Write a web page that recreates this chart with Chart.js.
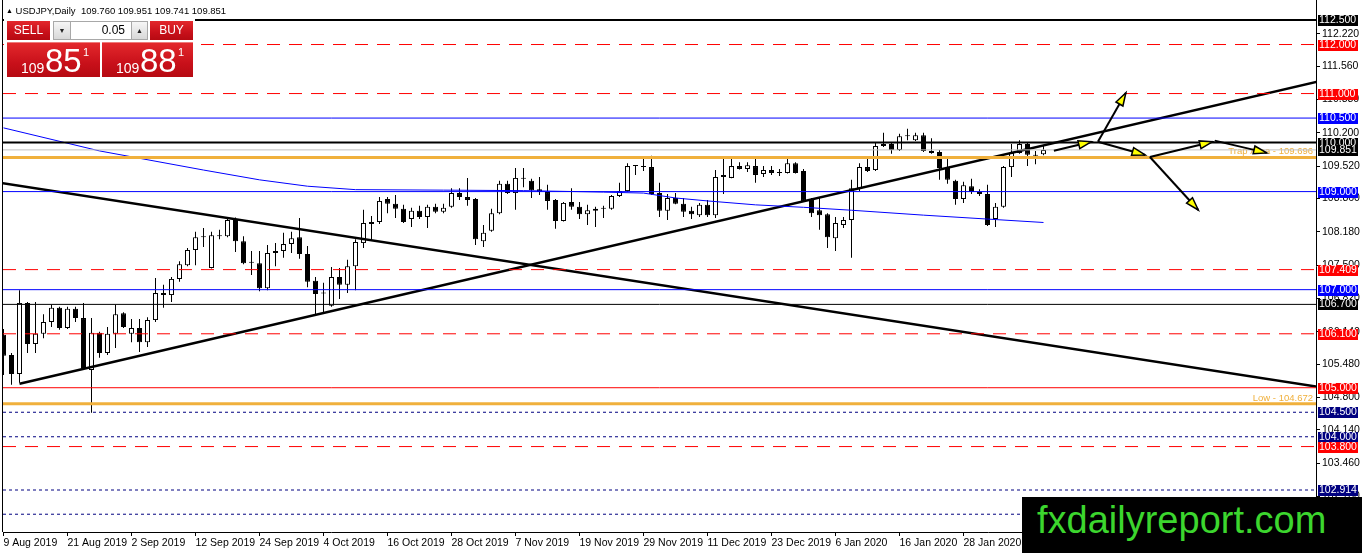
<!DOCTYPE html>
<html>
<head>
<meta charset="utf-8">
<title>USDJPY, Daily</title>
<script src="https://cdn.jsdelivr.net/npm/chart.js@4.4.1/dist/chart.umd.min.js"></script>
<style>
  html, body { margin: 0; padding: 0; background: #fff; overflow: hidden; }
  #wrap { position: relative; width: 1362px; height: 553px; font-family: "Liberation Sans", Arial, sans-serif; }
  #wrap canvas { position: absolute; left: 0; top: 0; }
  #hdr { position: absolute; left: 6px; top: 5px; font-size: 9.5px; line-height: 12px; white-space: pre; color: #000; }
  #hdr .tri { font-size: 7px; vertical-align: 1px; }
  #panel { position: absolute; left: 4px; top: 18px; width: 191px; height: 61px; background: #fff; }
  #panel div { position: absolute; box-sizing: border-box; }
  .red { background: linear-gradient(#e3282c, #c8101a 60%, #b60a12); color: #fff; }
  .btn { top: 3px; height: 19px; font-size: 12px; line-height: 19px; text-align: center; }
  .spin { top: 3px; height: 19px; background: linear-gradient(#f6f6f6, #d8d8d8); border: 1px solid #a8a8a8; font-size: 7px; line-height: 17px; text-align: center; color: #222; }
  #lot { top: 3px; left: 67px; width: 60px; height: 19px; border-top: 1px solid #a8a8a8; border-bottom: 1px solid #a8a8a8; background: #fff; font-size: 12px; line-height: 17px; text-align: right; padding-right: 6px; }
  .px { top: 24px; height: 35px; border-top: 1px solid #ee7a7a; }
  .px span { position: absolute; color: #fff; white-space: nowrap; }
  .px .s { font-size: 14px; line-height: 14px; top: 18px; left: 14px; }
  .px .b { font-size: 33px; line-height: 33px; top: 1px; left: 38px; }
  .px .u { font-size: 11px; line-height: 11px; top: 4px; left: 76px; }
  #logo { position: absolute; left: 1022px; top: 497px; width: 340px; height: 56px; background: #000; color: #3cd62e; font-size: 38px; line-height: 38px; padding: 4px 0 0 15px; box-sizing: border-box; white-space: nowrap; }
</style>
</head>
<body>
<div id="wrap">
  <canvas id="usdJpyCanvas" width="1362" height="553"></canvas>
  <div id="hdr"><span class="tri">▲</span> USDJPY,Daily  <span id="hdrVals"></span></div>
  <div id="panel">
    <div class="btn red" style="left:3px;width:43px">SELL</div>
    <div class="spin" style="left:49px;width:18px">▼</div>
    <div id="lot">0.05</div>
    <div class="spin" style="left:127px;width:17px">▲</div>
    <div class="btn red" style="left:146px;width:43px">BUY</div>
    <div class="px red" style="left:3px;width:93px"><span class="s">109</span><span class="b">85</span><span class="u">1</span></div>
    <div class="px red" style="left:98px;width:91px"><span class="s">109</span><span class="b">88</span><span class="u">1</span></div>
  </div>
  <div id="logo">fxdailyreport.com</div>
</div>
<script>
//---------------------- DATA

// bar index 0 = 9 Aug 2019, one bar per trading day
const dateTickIdx = [0, 8, 16, 24, 32, 40, 48, 56, 64, 72, 80, 88, 96, 104, 112, 120];
const dateTickLabels = ['9 Aug 2019', '21 Aug 2019', '2 Sep 2019', '12 Sep 2019', '24 Sep 2019', '4 Oct 2019',
    '16 Oct 2019', '28 Oct 2019', '7 Nov 2019', '19 Nov 2019', '29 Nov 2019', '11 Dec 2019',
    '23 Dec 2019', '6 Jan 2020', '16 Jan 2020', '28 Jan 2020'];
const priceTicks = [112.22, 111.56, 110.88, 110.20, 109.52, 108.86, 108.18, 107.50,
    106.82, 106.14, 105.48, 104.80, 104.14, 103.46, 102.78, 102.10];

const opens = [
    106.08, 105.67, 105.28, 106.73, 105.89, 106.10, 106.34, 106.63, 106.22, 106.61,
    106.42, 105.36, 106.12, 105.71, 106.10, 106.52, 106.10, 106.22, 105.93, 106.38,
    106.93, 106.89, 107.22, 107.50, 107.81, 108.07, 107.44, 108.09, 108.09, 108.44,
    107.99, 107.56, 107.54, 107.03, 107.75, 107.79, 107.93, 108.07, 107.73, 107.18,
    106.92, 106.67, 107.26, 107.10, 107.48, 107.95, 108.34, 108.38, 108.85, 108.75,
    108.65, 108.44, 108.61, 108.48, 108.69, 108.59, 108.69, 108.97, 108.89, 108.85,
    107.99, 108.20, 108.56, 109.16, 108.97, 109.28, 109.22, 109.05, 108.99, 108.83,
    108.40, 108.79, 108.69, 108.54, 108.61, 108.65, 108.65, 108.91, 109.01, 109.52,
    109.51, 109.50, 108.97, 108.61, 108.87, 108.75, 108.61, 108.52, 108.73, 108.52,
    109.30, 109.28, 109.52, 109.46, 109.52, 109.36, 109.44, 109.38, 109.38, 109.58,
    109.42, 108.85, 108.62, 108.54, 108.05, 108.32, 108.42, 109.07, 109.50, 109.44,
    109.93, 109.97, 109.85, 110.13, 110.05, 110.15, 109.83, 109.81, 109.48, 109.22,
    108.85, 109.11, 108.99, 108.95, 108.44, 108.69, 109.50, 109.79, 109.97, 109.75,
    109.760];
const highs = [
    106.20, 105.71, 106.99, 106.75, 106.75, 106.50, 106.69, 106.65, 106.65, 106.65,
    106.73, 106.42, 106.14, 106.24, 106.69, 106.54, 106.40, 106.40, 106.44, 107.24,
    107.10, 107.26, 107.58, 107.85, 108.18, 108.26, 108.18, 108.22, 108.46, 108.47,
    108.09, 107.79, 107.79, 107.91, 107.95, 108.16, 108.18, 108.46, 107.89, 107.26,
    107.14, 107.46, 107.44, 107.61, 108.03, 108.63, 108.50, 108.89, 108.89, 108.93,
    108.73, 108.67, 108.71, 108.73, 108.75, 108.75, 109.07, 109.07, 109.28, 108.87,
    108.32, 108.65, 109.22, 109.22, 109.48, 109.48, 109.26, 109.30, 109.14, 108.85,
    108.79, 109.07, 108.79, 108.73, 108.69, 108.71, 108.93, 109.18, 109.58, 109.54,
    109.67, 109.73, 109.18, 108.95, 108.97, 108.87, 108.69, 108.77, 108.83, 109.44,
    109.67, 109.67, 109.60, 109.60, 109.67, 109.52, 109.52, 109.46, 109.67, 109.60,
    109.46, 108.87, 108.87, 108.56, 108.48, 108.48, 109.24, 109.58, 109.69, 109.99,
    110.20, 109.99, 110.18, 110.28, 110.20, 110.20, 110.09, 109.85, 109.67, 109.24,
    109.20, 109.26, 109.05, 109.14, 108.77, 109.52, 109.97, 110.05, 110.01, 109.83,
    109.951];
const lows = [
    105.26, 105.06, 105.10, 105.71, 105.71, 106.01, 106.24, 106.18, 106.20, 106.34,
    105.38, 104.49, 105.61, 105.67, 105.81, 106.22, 105.93, 105.73, 105.83, 106.34,
    106.63, 106.75, 107.16, 107.48, 107.50, 107.87, 107.43, 108.03, 108.07, 107.77,
    107.52, 107.30, 106.97, 106.99, 107.48, 107.65, 107.75, 107.63, 107.05, 106.50,
    106.52, 106.65, 106.81, 106.93, 106.99, 107.85, 108.01, 108.34, 108.56, 108.46,
    108.36, 108.28, 108.44, 108.26, 108.56, 108.56, 108.67, 108.83, 108.71, 107.91,
    107.87, 108.18, 108.54, 108.95, 108.63, 109.09, 108.87, 108.93, 108.63, 108.24,
    108.39, 108.63, 108.44, 108.32, 108.28, 108.46, 108.63, 108.89, 108.99, 109.34,
    109.42, 108.93, 108.48, 108.42, 108.74, 108.48, 108.44, 108.48, 108.48, 108.46,
    108.95, 109.27, 109.45, 109.40, 109.18, 109.30, 109.34, 109.32, 109.37, 109.37,
    108.79, 108.48, 108.22, 107.85, 107.79, 108.26, 107.65, 109.01, 109.40, 109.42,
    109.91, 109.77, 109.83, 110.05, 110.03, 109.81, 109.77, 109.24, 109.16, 108.73,
    108.77, 108.95, 108.91, 108.30, 108.28, 108.67, 109.30, 109.77, 109.52, 109.56,
    109.741];
const closes = [
    105.65, 105.28, 106.73, 105.89, 106.10, 106.34, 106.63, 106.22, 106.61, 106.42,
    105.40, 106.12, 105.71, 106.10, 106.50, 106.24, 106.22, 105.93, 106.38, 106.93,
    106.89, 107.22, 107.52, 107.81, 108.07, 108.09, 108.11, 108.11, 108.42, 107.99,
    107.54, 107.55, 107.03, 107.75, 107.79, 107.93, 108.05, 107.73, 107.16, 106.91,
    106.94, 107.26, 107.10, 107.48, 107.97, 108.36, 108.38, 108.81, 108.75, 108.65,
    108.38, 108.61, 108.48, 108.69, 108.59, 108.67, 108.97, 108.89, 108.83, 108.03,
    108.16, 108.56, 109.16, 108.97, 109.28, 109.26, 109.03, 108.99, 108.81, 108.40,
    108.77, 108.69, 108.54, 108.62, 108.65, 108.66, 108.91, 109.01, 109.52, 109.53,
    109.50, 108.95, 108.61, 108.87, 108.75, 108.59, 108.54, 108.73, 108.52, 109.30,
    109.34, 109.52, 109.46, 109.54, 109.34, 109.44, 109.38, 109.39, 109.58, 109.38,
    108.81, 108.56, 108.52, 108.07, 108.36, 108.42, 109.07, 109.50, 109.42, 109.93,
    109.97, 109.85, 110.13, 110.14, 110.15, 109.83, 109.79, 109.48, 109.24, 108.85,
    109.13, 108.99, 108.95, 108.32, 108.69, 109.50, 109.79, 109.97, 109.75, 109.73,
    109.851];

// moving average, read at a few bars
const maIdx = [0, 12, 25, 32, 38, 44, 55, 65, 75, 80, 84, 88, 94, 100, 106, 115, 123, 130];
const maVals = [110.30, 109.83, 109.44, 109.24, 109.11, 109.04, 109.03, 109.02, 108.99,
    108.97, 108.87, 108.81, 108.73, 108.68, 108.62, 108.52, 108.44, 108.37];

// trend lines [bar, price]
const trendRise = [[2, 105.08], [165, 111.27]];
const trendFall = [[-1, 109.195], [165, 105.00]];

// projected path arrows [bar, price]
const arrowFrom = [[131.3, 109.834], [136.8, 110.018], [136.8, 110.018], [143.3, 109.706], [143.3, 109.706], [151.4, 110.040]];
const arrowTo = [[136.0, 110.018], [140.3, 111.017], [142.7, 109.747], [149.35, 108.625], [151.15, 110.018], [157.9, 109.790]];

// horizontal levels
const levelPrices = [112.500, 112.000, 111.000, 110.500, 110.000, 109.851, 109.696, 109.000, 107.409,
    107.000, 106.700, 106.100, 105.000, 104.672, 104.500, 104.000, 103.800, 102.914, 102.420];
const levelKinds = ['thick', 'dash', 'dash', 'blue', 'thick', 'bid', 'gold', 'blue', 'dash',
    'blue', 'thin', 'dash', 'red', 'gold', 'dot', 'dot', 'dash', 'dot', 'dot'];
const noteTexts = ['Trap Area - 109.696', 'Low - 104.672'];
const notePrices = [109.696, 104.672];

//---------------------- STYLE

const X_MIN = -0.0625;
const X_MAX = 164.0625;
const Y_MIN = 102.0575;
const Y_MAX = 112.908;
const FONT = '"Liberation Sans", Arial, sans-serif';
const GOLD = '#f0b03c';

const LEVEL_STYLE = {
    thick: {color: '#000000', width: 2, dash: [], tag: '#000000'},
    thin:  {color: '#000000', width: 1, dash: [], tag: '#000000'},
    dash:  {color: '#ff0000', width: 1, dash: [13, 9], tag: '#ff0000'},
    red:   {color: '#ff0000', width: 1, dash: [], tag: '#ff0000'},
    blue:  {color: '#0000ff', width: 1, dash: [], tag: '#0000ff'},
    dot:   {color: '#000080', width: 1, dash: [3, 3], tag: '#000080'},
    gold:  {color: GOLD, width: 3, dash: [], tag: null},
    bid:   {color: '#c0c0c0', width: 1, dash: [], tag: '#000000'}
};

//---------------------- PLUGINS

const chartDecor = {
    id: 'chartDecor',
    beforeDatasetsDraw(chart) {
        const {ctx, chartArea, scales: {y}} = chart;
        ctx.save();
        ctx.font = `9.5px ${FONT}`;
        ctx.fillStyle = GOLD;
        ctx.textAlign = 'right';
        ctx.textBaseline = 'alphabetic';
        noteTexts.forEach((t, k) => {
            ctx.fillText(t, chartArea.right - 3, y.getPixelForValue(notePrices[k]) - 3);
        });
        ctx.restore();
    },
    afterDatasetsDraw(chart) {
        const {ctx, scales: {x, y}} = chart;
        ctx.save();
        arrowTo.forEach((to, k) => {
            const from = arrowFrom[k];
            const x1 = x.getPixelForValue(from[0]), y1 = y.getPixelForValue(from[1]);
            const x2 = x.getPixelForValue(to[0]), y2 = y.getPixelForValue(to[1]);
            const a = Math.atan2(y2 - y1, x2 - x1);
            const len = 13, half = 4;
            const bx = x2 - len * Math.cos(a), by = y2 - len * Math.sin(a);
            ctx.beginPath();
            ctx.moveTo(x2, y2);
            ctx.lineTo(bx + half * Math.sin(a), by - half * Math.cos(a));
            ctx.lineTo(bx - half * Math.sin(a), by + half * Math.cos(a));
            ctx.closePath();
            ctx.fillStyle = '#ffff00';
            ctx.fill();
            ctx.lineWidth = 1.5;
            ctx.strokeStyle = '#000000';
            ctx.stroke();
        });
        ctx.restore();
    },
    afterDraw(chart) {
        const {ctx, chartArea, scales: {y}} = chart;
        ctx.save();
        // left frame
        ctx.strokeStyle = '#000000';
        ctx.lineWidth = 1;
        ctx.beginPath();
        ctx.moveTo(chartArea.left - 0.5, 0);
        ctx.lineTo(chartArea.left - 0.5, chartArea.bottom);
        ctx.stroke();
        // price tags on the right axis
        ctx.font = `10.5px ${FONT}`;
        ctx.textBaseline = 'middle';
        ctx.textAlign = 'left';
        levelPrices.forEach((p, k) => {
            const st = LEVEL_STYLE[levelKinds[k]];
            if (!st.tag) return;
            const py = Math.round(y.getPixelForValue(p));
            ctx.fillStyle = st.tag;
            ctx.fillRect(chartArea.right + 2, py - 5, 40, 11);
            ctx.fillStyle = '#ffffff';
            ctx.fillText(p.toFixed(3), chartArea.right + 3, py + 0.5);
        });
        ctx.restore();
    }
};

//---------------------- CALLS

document.getElementById('hdrVals').textContent =
    [opens, highs, lows, closes].map(a => a[a.length - 1].toFixed(3)).join(' ');

Chart.defaults.font.family = FONT;
Chart.defaults.font.size = 10.5;
Chart.defaults.color = '#000000';

let myChart = plotUsdJpy();

//---------------------- FUNCTIONS

function lineSet(points, color, width, dash, order) {
    return {
        type: 'line',
        data: points.map(p => ({x: p[0], y: p[1]})),
        borderColor: color,
        borderWidth: width,
        borderDash: dash,
        pointRadius: 0,
        fill: false,
        tension: 0,
        order: order
    };
}

function plotUsdJpy() {
    const wicks = [];
    const bodies = [];
    const bodyColors = [];
    for (let i = 0; i < opens.length; i++) {
        wicks.push({x: i, y: [lows[i], highs[i]]});
        bodies.push({x: i, y: [opens[i], closes[i]]});
        bodyColors.push(closes[i] >= opens[i] ? '#ffffff' : '#000000');
    }

    const datasets = [];
    levelPrices.forEach((p, k) => {
        const st = LEVEL_STYLE[levelKinds[k]];
        datasets.push(lineSet([[X_MIN, p], [X_MAX, p]], st.color, st.width, st.dash, 1));
    });
    datasets.push(lineSet(maIdx.map((v, k) => [v, maVals[k]]), '#0000ff', 1, [], 1));
    datasets.push(lineSet(trendRise, '#000000', 2.5, [], 1));
    datasets.push(lineSet(trendFall, '#000000', 2.5, [], 1));
    arrowFrom.forEach((f, k) => datasets.push(lineSet([f, arrowTo[k]], '#000000', 2, [], 0)));

    datasets.push({
        type: 'bar',
        data: wicks,
        backgroundColor: '#000000',
        borderWidth: 0,
        barThickness: 1,
        inflateAmount: 0,
        grouped: false,
        order: 3
    });
    datasets.push({
        type: 'bar',
        data: bodies,
        backgroundColor: bodyColors,
        borderColor: '#000000',
        borderWidth: 1,
        borderSkipped: false,
        barThickness: 5,
        minBarLength: 1,
        inflateAmount: 0,
        grouped: false,
        order: 2
    });

    return new Chart(document.getElementById('usdJpyCanvas').getContext('2d'), {
        type: 'bar',
        data: {datasets: datasets},
        plugins: [chartDecor],
        options: {
            responsive: false,
            devicePixelRatio: 1,
            animation: false,
            events: [],
            layout: {padding: {left: 3, top: 0, right: 0, bottom: 0}},
            plugins: {
                legend: {display: false},
                tooltip: {enabled: false}
            },
            scales: {
                x: {
                    type: 'linear',
                    min: X_MIN,
                    max: X_MAX,
                    offset: false,
                    grid: {drawOnChartArea: false, drawTicks: true, tickLength: 4, color: '#000000', offset: false},
                    border: {display: true, color: '#000000', width: 1},
                    ticks: {
                        autoSkip: false,
                        maxRotation: 0,
                        minRotation: 0,
                        align: 'start',
                        padding: 1,
                        color: '#000000',
                        callback: (v, i) => dateTickLabels[i]
                    },
                    afterBuildTicks: axis => { axis.ticks = dateTickIdx.map(v => ({value: v})); },
                    afterFit: axis => { axis.height = 21; axis.paddingLeft = 0; axis.paddingRight = 0; }
                },
                y: {
                    type: 'linear',
                    position: 'right',
                    min: Y_MIN,
                    max: Y_MAX,
                    grid: {drawOnChartArea: false, drawTicks: true, tickLength: 4, color: '#000000'},
                    border: {display: true, color: '#000000', width: 1},
                    ticks: {
                        autoSkip: false,
                        padding: 2,
                        color: '#000000',
                        callback: v => v.toFixed(3)
                    },
                    afterBuildTicks: axis => { axis.ticks = priceTicks.map(v => ({value: v})); },
                    afterFit: axis => { axis.width = 46; axis.paddingTop = 0; axis.paddingBottom = 0; }
                }
            }
        }
    });
}
</script>
</body>
</html>
